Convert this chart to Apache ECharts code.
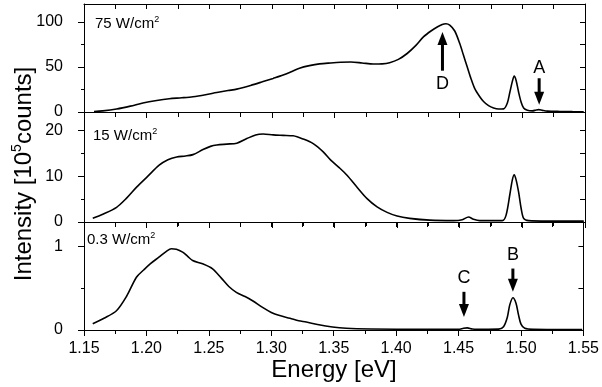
<!DOCTYPE html>
<html><head><meta charset="utf-8">
<script src="https://cdn.jsdelivr.net/npm/echarts@6/dist/echarts.min.js"></script>
<style>html,body{margin:0;padding:0;background:#fff}#c{width:602px;height:387px}</style>
</head><body><div id="c"></div>
<script>
const FONT = "'Liberation Sans', Arial, Helvetica, sans-serif";

// x tick labels (energy, eV)
const xTicks = [1.15, 1.20, 1.25, 1.30, 1.35, 1.40, 1.45, 1.50, 1.55];

// y ticks per panel
const yMajor75 = [0, 50, 100];
const yMinor75 = [25, 75];
const yRight75 = [25, 50, 75, 100];
const yMajor15 = [0, 10, 20];
const yMinor15 = [5, 15];
const yRight15 = [5, 10, 15, 20];
const yMajor03 = [0, 1];
const yMinor03 = [0.5];
const yRight03 = [0.5, 1];

// spectra [energy, intensity]
const spec75 = [
 [1.158,0.5],[1.165,1.2],[1.176,3.3],[1.187,6.5],[1.197,10],[1.208,12.8],[1.218,14.7],[1.228,15.8],
 [1.237,17],[1.247,19.2],[1.256,21.6],[1.265,23.8],[1.272,25.4],[1.283,29.5],[1.293,33.8],[1.301,37.3],
 [1.309,41],[1.316,45],[1.322,48.6],[1.330,51.5],[1.338,53.5],[1.347,54.5],[1.355,55.2],[1.363,55.5],
 [1.372,54.5],[1.381,53.3],[1.388,53.5],[1.394,54.8],[1.401,58.5],[1.408,65],[1.415,74],[1.421,83.4],
 [1.427,90],[1.432,94.5],[1.436,97.3],[1.439,98],[1.442,96.5],[1.446,90],[1.450,76],[1.453,63],[1.456,50],
 [1.459,37],[1.462,26],[1.466,17],[1.469,11.7],[1.473,7],[1.477,4.4],[1.481,3.3],[1.485,3.5],
 [1.488,10],[1.490,22],[1.492,34],[1.4935,40],[1.495,35],[1.497,22],[1.499,11],[1.501,4.5],
 [1.504,2],[1.508,1.3],[1.511,2.2],[1.513,2.6],[1.516,1.8],[1.520,1],[1.530,0.6],[1.540,0.4],[1.549,0.3]
];
const spec15 = [
 [1.157,0.8],[1.165,1.7],[1.176,3.2],[1.184,5.2],[1.192,7.6],[1.201,10],[1.210,12.4],[1.217,13.6],
 [1.224,14.2],[1.231,14.4],[1.237,14.7],[1.245,15.8],[1.251,16.5],[1.256,16.8],[1.264,17],[1.272,17.2],
 [1.280,18.2],[1.287,19],[1.293,19.2],[1.301,19.0],[1.309,18.9],[1.317,18.8],[1.325,18.1],[1.333,17.1],
 [1.341,15.3],[1.347,13.5],[1.354,11.8],[1.360,10.2],[1.368,7.6],[1.376,5.1],[1.384,3.3],[1.392,2.1],
 [1.400,1.3],[1.410,0.8],[1.426,0.4],[1.445,0.3],[1.452,0.5],[1.457,1.1],[1.461,0.6],[1.466,0.3],
 [1.484,0.3],[1.487,1.5],[1.490,6],[1.492,9.2],[1.4935,10.3],[1.495,9.2],[1.497,6.5],[1.499,3],
 [1.501,0.8],[1.505,0.3],[1.520,0.2],[1.549,0.2]
];
const spec03 = [
 [1.157,0.075],[1.166,0.14],[1.176,0.23],[1.184,0.40],[1.192,0.63],[1.198,0.72],[1.203,0.79],[1.210,0.87],
 [1.216,0.94],[1.220,0.97],[1.224,0.965],[1.229,0.93],[1.233,0.88],[1.237,0.83],[1.245,0.79],[1.253,0.73],
 [1.260,0.62],[1.266,0.52],[1.272,0.45],[1.279,0.40],[1.285,0.35],[1.293,0.27],[1.300,0.21],[1.306,0.175],
 [1.315,0.14],[1.322,0.11],[1.328,0.095],[1.337,0.065],[1.349,0.035],[1.360,0.02],[1.380,0.012],[1.420,0.008],
 [1.450,0.008],[1.454,0.02],[1.457,0.025],[1.461,0.012],[1.470,0.008],[1.482,0.01],[1.486,0.04],[1.489,0.15],
 [1.491,0.3],[1.4935,0.385],[1.496,0.32],[1.498,0.18],[1.500,0.07],[1.503,0.02],[1.510,0.008],[1.549,0.005]
];

// arrows: [energy, tail, tip, letter position, letter]
const arrows75 = [[1.4362, 45.9, 89, 30.7, 'D'], [1.5134, 37.5, 8, 49.3, 'A']];
const arrows15 = [];
const arrows03 = [[1.4543, 0.456, 0.155, 0.615, 'C'], [1.4935, 0.734, 0.456, 0.9, 'B']];

const panelNames = ['75 W/cm', '15 W/cm', '0.3 W/cm'];

const layout = [
 {top: 4, height: 108, yMax: 120},
 {top: 112, height: 110, yMax: 24},
 {top: 222, height: 108, yMax: 1.29}
];
const panels = [
 {data: spec75, major: yMajor75, minor: yMinor75, right: yRight75, arrows: arrows75},
 {data: spec15, major: yMajor15, minor: yMinor15, right: yRight15, arrows: arrows15},
 {data: spec03, major: yMajor03, minor: yMinor03, right: yRight03, arrows: arrows03}
];

const K = () => ({color: '#000', width: 1});
const grid = [], xAxis = [], yAxis = [], series = [];
layout.forEach((L, i) => {
  const P = panels[i];
  grid.push({left: 84, right: 17, top: L.top, height: L.height});
  xAxis.push({
    type: 'value', gridIndex: i, position: 'bottom', min: 1.15, max: 1.55, interval: 0.05,
    axisLine: {show: true, onZero: false, lineStyle: K()},
    axisTick: {show: true, inside: false, length: 6, lineStyle: K()},
    minorTick: {show: true, splitNumber: 2, length: 4, lineStyle: K()},
    splitLine: {show: false},
    axisLabel: {show: i === 2, customValues: xTicks, formatter: v => v.toFixed(2),
      fontSize: 16, color: '#000', fontFamily: FONT, margin: 11}
  });
  xAxis.push({
    type: 'value', gridIndex: i, position: 'top', min: 1.15, max: 1.55, interval: 0.05,
    axisLine: {show: true, onZero: false, lineStyle: K()},
    axisTick: {show: true, inside: true, length: 5, lineStyle: K()},
    minorTick: {show: true, splitNumber: 2, length: 5, lineStyle: K()},
    splitLine: {show: false}, axisLabel: {show: false}
  });
  yAxis.push({
    type: 'value', gridIndex: i, position: 'left', min: 0, max: L.yMax,
    axisLine: {show: true, onZero: false, lineStyle: K()},
    axisTick: {show: true, inside: false, length: 6, customValues: P.major, lineStyle: K()},
    splitLine: {show: false},
    axisLabel: {show: true, customValues: P.major, fontSize: 16, color: '#000', fontFamily: FONT, margin: 21}
  });
  yAxis.push({
    type: 'value', gridIndex: i, position: 'left', min: 0, max: L.yMax,
    axisLine: {show: false},
    axisTick: {show: true, inside: false, length: 3, customValues: P.minor, lineStyle: K()},
    splitLine: {show: false}, axisLabel: {show: false}
  });
  yAxis.push({
    type: 'value', gridIndex: i, position: 'right', min: 0, max: L.yMax,
    axisLine: {show: true, onZero: false, lineStyle: K()},
    axisTick: {show: true, inside: true, length: 5, customValues: P.right, lineStyle: K()},
    splitLine: {show: false}, axisLabel: {show: false}
  });
  series.push({
    type: 'line', xAxisIndex: 2 * i, yAxisIndex: 3 * i, data: P.data,
    showSymbol: false, symbol: 'none', smooth: 0.3, silent: true,
    lineStyle: {color: '#000', width: 1.6}
  });
  if (P.arrows.length) {
    const arr = P.arrows;
    series.push({
      type: 'custom', xAxisIndex: 2 * i, yAxisIndex: 3 * i, silent: true,
      data: arr.map(a => [a[0], a[1], a[2], a[3]]),
      renderItem: function (params, api) {
        const p0 = api.coord([api.value(0), api.value(1)]);
        const p1 = api.coord([api.value(0), api.value(2)]);
        const pl = api.coord([api.value(0), api.value(3)]);
        const dir = p1[1] > p0[1] ? 1 : -1;
        const headL = 13, headW = 10;
        const base = p1[1] - dir * headL;
        return {type: 'group', children: [
          {type: 'line', shape: {x1: p0[0], y1: p0[1], x2: p1[0], y2: base + dir * 1},
            style: {stroke: '#000', lineWidth: 3}},
          {type: 'polygon', shape: {points: [[p1[0], p1[1]], [p1[0] - headW / 2, base], [p1[0] + headW / 2, base]]},
            style: {fill: '#000'}},
          {type: 'text', x: pl[0], y: pl[1], style: {text: arr[params.dataIndex][4], fill: '#000',
            font: '18px ' + FONT, align: 'center', verticalAlign: 'middle',
            textAlign: 'center', textVerticalAlign: 'middle'}}
        ]};
      }
    });
  }
});

const labelPos = [[95, 24], [93, 136], [87, 240]];
const graphic = panelNames.map((t, i) => ({
  type: 'text', x: labelPos[i][0], y: labelPos[i][1],
  style: {
    text: '{m|' + t + '}{s|2}', verticalAlign: 'middle', textVerticalAlign: 'middle',
    align: 'left', textAlign: 'left',
    rich: {
      m: {fontSize: 15, fontFamily: FONT, fill: '#000', color: '#000', lineHeight: 18},
      s: {fontSize: 9, fontFamily: FONT, fill: '#000', color: '#000', verticalAlign: 'top', lineHeight: 10}
    }
  }
}));
graphic.push({
  type: 'text', x: 334, y: 370,
  style: {text: 'Energy [eV]', font: '24px ' + FONT, fill: '#000', align: 'center', verticalAlign: 'middle',
    textAlign: 'center', textVerticalAlign: 'middle'}
});
graphic.push({
  type: 'text', x: 24, y: 174, rotation: Math.PI / 2,
  style: {
    text: '{m|Intensity [10}{s|5}{m|counts]}', align: 'center', verticalAlign: 'middle',
    textAlign: 'center', textVerticalAlign: 'middle',
    rich: {
      m: {fontSize: 24, fontFamily: FONT, fill: '#000', color: '#000', lineHeight: 28},
      s: {fontSize: 14, fontFamily: FONT, fill: '#000', color: '#000', verticalAlign: 'top', lineHeight: 16}
    }
  }
});

const chart = echarts.init(document.getElementById('c'), null, {renderer: 'canvas'});
chart.setOption({animation: false, backgroundColor: '#fff', grid, xAxis, yAxis, series, graphic});
</script></body></html>
